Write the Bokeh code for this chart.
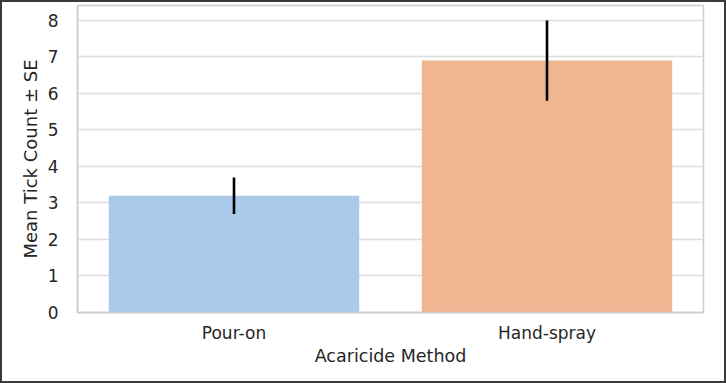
from bokeh.plotting import figure
from bokeh.layouts import column
from bokeh.models import ColumnDataSource, FactorRange, Range1d, FixedTicker
from bokeh.embed import file_html
from bokeh.resources import INLINE

# data
methods = ["Pour-on", "Hand-spray"]
mean_ticks = [3.2, 6.9]
se_ticks = [0.5, 1.1]
bar_colors = ["#abc9ea", "#efb691"]
y_ticks = [0, 1, 2, 3, 4, 5, 6, 7, 8]

lower = [m - s for m, s in zip(mean_ticks, se_ticks)]
upper = [m + s for m, s in zip(mean_ticks, se_ticks)]
src = ColumnDataSource(dict(method=methods, mean=mean_ticks, lower=lower,
                            upper=upper, color=bar_colors))

FONT = "DejaVu Sans"
TXT = "#262626"

p = figure(width=722, height=379, output_backend="svg", toolbar_location=None,
           x_range=FactorRange(factors=methods), y_range=Range1d(0, 8.41),
           min_border_left=75, min_border_right=21, min_border_top=3,
           min_border_bottom=69)
p.background_fill_color = "white"
p.border_fill_color = "white"
p.outline_line_color = "#cccccc"
p.outline_line_width = 1.5

p.vbar(x="method", top="mean", width=0.8, source=src, fill_color="color",
       line_color=None)
p.segment(x0="method", y0="lower", x1="method", y1="upper", source=src,
          line_color="black", line_width=2.6)

p.xgrid.grid_line_color = None
p.ygrid.grid_line_color = "#dedede"
p.ygrid.grid_line_width = 1.4
p.yaxis.ticker = FixedTicker(ticks=y_ticks)

for ax in (p.xaxis[0], p.yaxis[0]):
    ax.axis_line_color = "#cccccc"
    ax.axis_line_width = 1.5
    ax.major_tick_line_color = None
    ax.minor_tick_line_color = None
    ax.major_label_text_font = FONT
    ax.major_label_text_font_size = "17px"
    ax.major_label_text_color = TXT
    ax.axis_label_text_font = FONT
    ax.axis_label_text_font_style = "normal"
    ax.axis_label_text_color = TXT

p.xaxis.axis_label = "Acaricide Method"
p.yaxis.axis_label = "Mean Tick Count ± SE"
p.xaxis.axis_label_text_font_size = "17.5px"
p.yaxis.axis_label_text_font_size = "18px"
p.xaxis.major_label_standoff = 4
p.xaxis.axis_label_standoff = 0
p.yaxis.major_label_standoff = 13
p.yaxis.axis_label_standoff = 4

page = column(p, styles={"border": "2px solid #3a3a3a", "box-sizing": "content-box"})

open("out.html", "w").write(file_html(page, INLINE))
